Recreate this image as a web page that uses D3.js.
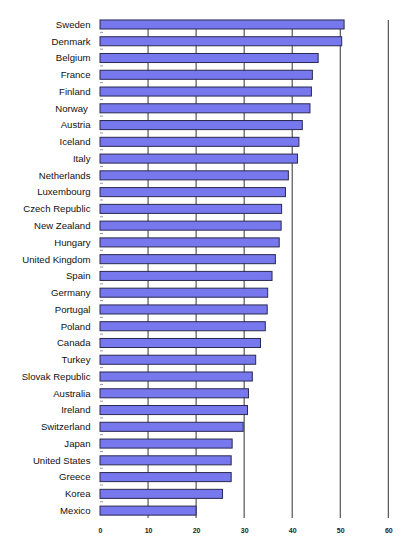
<!DOCTYPE html>
<html>
<head>
<meta charset="utf-8">
<script src="https://cdn.jsdelivr.net/npm/d3@7"></script>
<style>
  html, body { margin: 0; padding: 0; background: #fff; }
  svg { display: block; }
  text { font-family: "Liberation Sans", Arial, sans-serif; }
</style>
</head>
<body>
<div id="chart"></div>
<script>
const categories = ["Sweden","Denmark","Belgium","France","Finland","Norway ","Austria","Iceland","Italy","Netherlands","Luxembourg","Czech Republic","New Zealand","Hungary","United Kingdom","Spain","Germany","Portugal","Poland","Canada","Turkey","Slovak Republic","Australia","Ireland","Switzerland","Japan","United States","Greece","Korea","Mexico"];
const values = [50.8,50.3,45.4,44.2,44.0,43.7,42.1,41.4,41.1,39.2,38.6,37.8,37.7,37.3,36.5,35.8,34.9,34.8,34.4,33.4,32.4,31.7,30.9,30.7,29.8,27.5,27.3,27.3,25.5,20.0];
const tickValues = [0,10,20,30,40,50,60];

const W = 404, H = 539;
const svg = d3.select("#chart").append("svg").attr("width", W).attr("height", H);

const x = d3.scaleLinear().domain([0, 60]).range([100, 388.3]);
const y = d3.scaleBand().domain(categories).range([16.1, 519]).paddingInner(0.46).paddingOuter(0.23);

const gridTop = 20, gridBottom = 518;

// gridlines
svg.append("g").selectAll("line").data(tickValues.slice(1)).join("line")
  .attr("x1", d => x(d)).attr("x2", d => x(d))
  .attr("y1", gridTop).attr("y2", gridBottom)
  .attr("stroke", "#333").attr("stroke-width", 1);

// small left ticks at category boundaries
const step = y.step();
svg.append("g").selectAll("line").data(categories.slice(1)).join("line")
  .attr("x1", x(0)).attr("x2", x(0) + 3)
  .attr("y1", d => y(d) - y.paddingInner() * step / 2 - 0.5)
  .attr("y2", d => y(d) - y.paddingInner() * step / 2 - 0.5)
  .attr("stroke", "#999").attr("stroke-width", 1);

// bars
svg.append("g").selectAll("rect").data(values).join("rect")
  .attr("x", x(0))
  .attr("y", (d, i) => y(categories[i]))
  .attr("width", d => x(d) - x(0))
  .attr("height", y.bandwidth())
  .attr("fill", "#7777ee")
  .attr("stroke", "#2a2a50")
  .attr("stroke-width", 1);

// category labels
svg.append("g").selectAll("text").data(categories).join("text")
  .attr("x", 90.5)
  .attr("y", d => y(d) + y.bandwidth() / 2)
  .attr("dy", "0.35em")
  .attr("text-anchor", "end")
  .attr("xml:space", "preserve")
  .style("white-space", "pre")
  .attr("font-size", "9.6px")
  .attr("fill", "#111")
  .text(d => d);

// x tick labels
const xAxis = d3.axisBottom(x).tickValues(tickValues).tickSize(0).tickPadding(0);
const gx = svg.append("g").attr("transform", `translate(0, 528)`).call(xAxis);
gx.select(".domain").remove();
gx.selectAll("text")
  .attr("font-family", "\"Liberation Sans\", Arial, sans-serif")
  .attr("font-size", "7px")
  .attr("font-weight", "bold")
  .attr("fill", "#222");
</script>
</body>
</html>
